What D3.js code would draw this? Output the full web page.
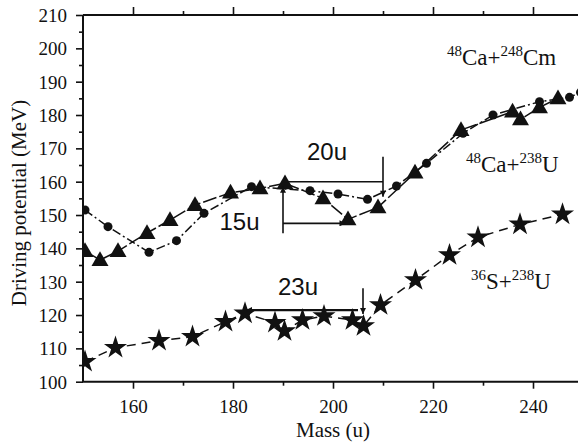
<!DOCTYPE html>
<html><head><meta charset="utf-8">
<script src="https://cdn.jsdelivr.net/npm/d3@7"></script>
<style>body{margin:0;background:#fff}svg{display:block}</style>
</head><body>
<svg id="c" width="578" height="444"></svg>
<script>
// ---- data ----
const triMass = [150.4,153.4,157,162.8,167.4,172.4,179.5,185.4,190.4,198,203,209,216.4,225.6,235.9,237.5,241.3,245];
const triVal  = [139.2,136.5,139.2,144.6,148.5,153,156.7,158,159.5,155,148.7,152.3,162.7,175.5,181,178.7,182.3,185];
const cirMass = [150.4,155,163.2,168.7,174.2,183.7,195.4,201,206.9,212.7,218.7,226,232,241.3,247.3,249.5];
const cirVal  = [151.5,146.5,138.8,142.3,150.5,158.5,157.3,156.3,154.7,158.7,165.5,174.5,180,184,185.3,186.8];
const starMass = [150.4,156.5,165.2,171.9,178.5,182.4,188.4,190.3,193.9,198.2,203.9,206.1,209.5,216.5,223.3,229,237.4,245.9];
const starVal  = [106,110.2,112.3,113.5,118,120.5,117.7,115.2,118.5,119.7,118.5,116.7,123,130.5,138,143.3,147.2,150.2];
const xTicks = [160,180,200,220,240];
const yTicks = [100,110,120,130,140,150,160,170,180,190,200,210];

const W=578,H=444;
const x = d3.scaleLinear().domain([150,250]).range([83,583]);
const y = d3.scaleLinear().domain([100,210]).range([381.7,15]);
const svg = d3.select('#c');
const serif = '"Liberation Serif","Times New Roman",serif';
const sans = '"Liberation Sans",Arial,sans-serif';

svg.append('defs').append('clipPath').attr('id','clip')
  .append('rect').attr('x',83).attr('y',15).attr('width',W-83).attr('height',367);
const defs = svg.select('defs');
defs.append('marker').attr('id','ah').attr('viewBox','0 0 10 10').attr('refX',10).attr('refY',5)
  .attr('markerWidth',7).attr('markerHeight',6).attr('markerUnits','userSpaceOnUse').attr('orient','auto')
  .append('path').attr('d','M0,0L10,5L0,10Z').attr('fill','#111');

// axes
const bottom = d3.axisBottom(x).tickValues(xTicks).tickSize(7).tickFormat(d3.format('d'));
const gb = svg.append('g').attr('transform',`translate(0,${y(100)})`).call(bottom);
const gbm = svg.append('g').attr('transform',`translate(0,${y(100)})`)
  .call(d3.axisBottom(x).tickValues([170,190,210,230,250]).tickSize(4).tickFormat(''));
const gt = svg.append('g').attr('transform',`translate(0,${y(210)})`)
  .call(d3.axisTop(x).tickValues(xTicks).tickSize(8).tickFormat(''));
const gtm = svg.append('g').attr('transform',`translate(0,${y(210)})`)
  .call(d3.axisTop(x).tickValues([170,190,210,230,250]).tickSize(4).tickFormat(''));
const gl = svg.append('g').attr('transform',`translate(${x(150)},0)`)
  .call(d3.axisLeft(y).tickValues(yTicks).tickSize(7).tickFormat(d3.format('d')));
const glm = svg.append('g').attr('transform',`translate(${x(150)},0)`)
  .call(d3.axisLeft(y).tickValues(d3.range(105,210,10)).tickSize(4).tickFormat(''));
[gb,gbm,gt,gtm,gl,glm].forEach(g=>{
  g.select('.domain').remove();
  g.selectAll('.tick line').attr('stroke','#111').attr('stroke-width',1.6);
  g.selectAll('text').attr('font-family',serif).attr('font-size',19).attr('fill','#111');
});
gb.selectAll('text').attr('dy',0).attr('y',31);
gl.selectAll('text').attr('x',-16).attr('dy','0.34em');
// axis frame lines
svg.append('path').attr('d',`M${x(150)},${y(210)}L${W},${y(210)}M${x(150)},${y(210)}L${x(150)},${y(100)}L${W},${y(100)}`)
  .attr('fill','none').attr('stroke','#111').attr('stroke-width',2);

// axis titles
svg.append('text').attr('x',x(200)).attr('y',437).attr('text-anchor','middle')
  .attr('font-family',serif).attr('font-size',21).attr('fill','#111').text('Mass (u)');
svg.append('text').attr('transform',`translate(26,${203}) rotate(-90)`).attr('text-anchor','middle')
  .attr('font-family',serif).attr('font-size',21).attr('fill','#111').text('Driving potential (MeV)');

const plot = svg.append('g').attr('clip-path','url(#clip)');
const line = d3.line().x(d=>x(d[0])).y(d=>y(d[1]));
const zip = (a,b)=>a.map((v,i)=>[v,b[i]]);
const tri = zip(triMass,triVal), cir = zip(cirMass,cirVal), star = zip(starMass,starVal);

plot.append('path').datum(cir).attr('d',line).attr('fill','none').attr('stroke','#111')
  .attr('stroke-width',1.5).attr('stroke-dasharray','9,3,2,3');
plot.append('path').datum(tri).attr('d',line).attr('fill','none').attr('stroke','#111')
  .attr('stroke-width',1.5).attr('stroke-dasharray','14,3');
plot.append('path').datum(star).attr('d',line).attr('fill','none').attr('stroke','#111')
  .attr('stroke-width',1.5).attr('stroke-dasharray','9,6');

plot.selectAll('.cir').data(cir).enter().append('circle')
  .attr('cx',d=>x(d[0])).attr('cy',d=>y(d[1])).attr('r',4.5).attr('fill','#111');
const triSym = d3.symbol().type(d3.symbolTriangle).size(125);
plot.selectAll('.tri').data(tri).enter().append('path')
  .attr('transform',d=>`translate(${x(d[0])},${y(d[1])+1})`).attr('d',triSym).attr('fill','#111');
const starSym = d3.symbol().type(d3.symbolStar).size(165);
plot.selectAll('.star').data(star).enter().append('path')
  .attr('transform',d=>`translate(${x(d[0])},${y(d[1])})`).attr('d',starSym).attr('fill','#111');

// annotations (data units)
const arrows = [
  {x1:190,y1:160,x2:210,y2:160,head:false},
  {x1:210,y1:167.5,x2:210,y2:155.5,head:true},
  {x1:190,y1:144.5,x2:190,y2:158.5,head:true},
  {x1:190,y1:147.5,x2:202.5,y2:147.5,head:true},
  {x1:205,y1:121.5,x2:182.6,y2:121.5,head:true},
  {x1:206,y1:128,x2:206,y2:120.3,head:true}
];
arrows.forEach(a=>{
  svg.append('line').attr('x1',x(a.x1)).attr('y1',y(a.y1)).attr('x2',x(a.x2)).attr('y2',y(a.y2))
    .attr('stroke','#111').attr('stroke-width',a.x1===205?2.2:1.6)
    .attr('marker-end',a.head?'url(#ah)':null);
});
const notes = [{t:'20u',x:194.8,y:166.5},{t:'15u',x:177.3,y:145.6},{t:'23u',x:189,y:126}];
notes.forEach(n=>svg.append('text').attr('x',x(n.x)).attr('y',y(n.y)).attr('font-family',sans)
  .attr('font-size',24).attr('fill','#111').text(n.t));

// reaction labels
function label(px,py,parts){
  const t = svg.append('text').attr('x',px).attr('y',py).attr('font-family',serif).attr('fill','#111');
  parts.forEach(p=>{
    t.append('tspan').attr('font-size',p[1]?15:23).attr('baseline-shift',p[1]?'9':null).text(p[0]);
  });
}
label(447,65,[['48',1],['Ca+',0],['248',1],['Cm',0]]);
label(466,172,[['48',1],['Ca+',0],['238',1],['U',0]]);
label(471,289,[['36',1],['S+',0],['238',1],['U',0]]);
</script>
</body></html>
